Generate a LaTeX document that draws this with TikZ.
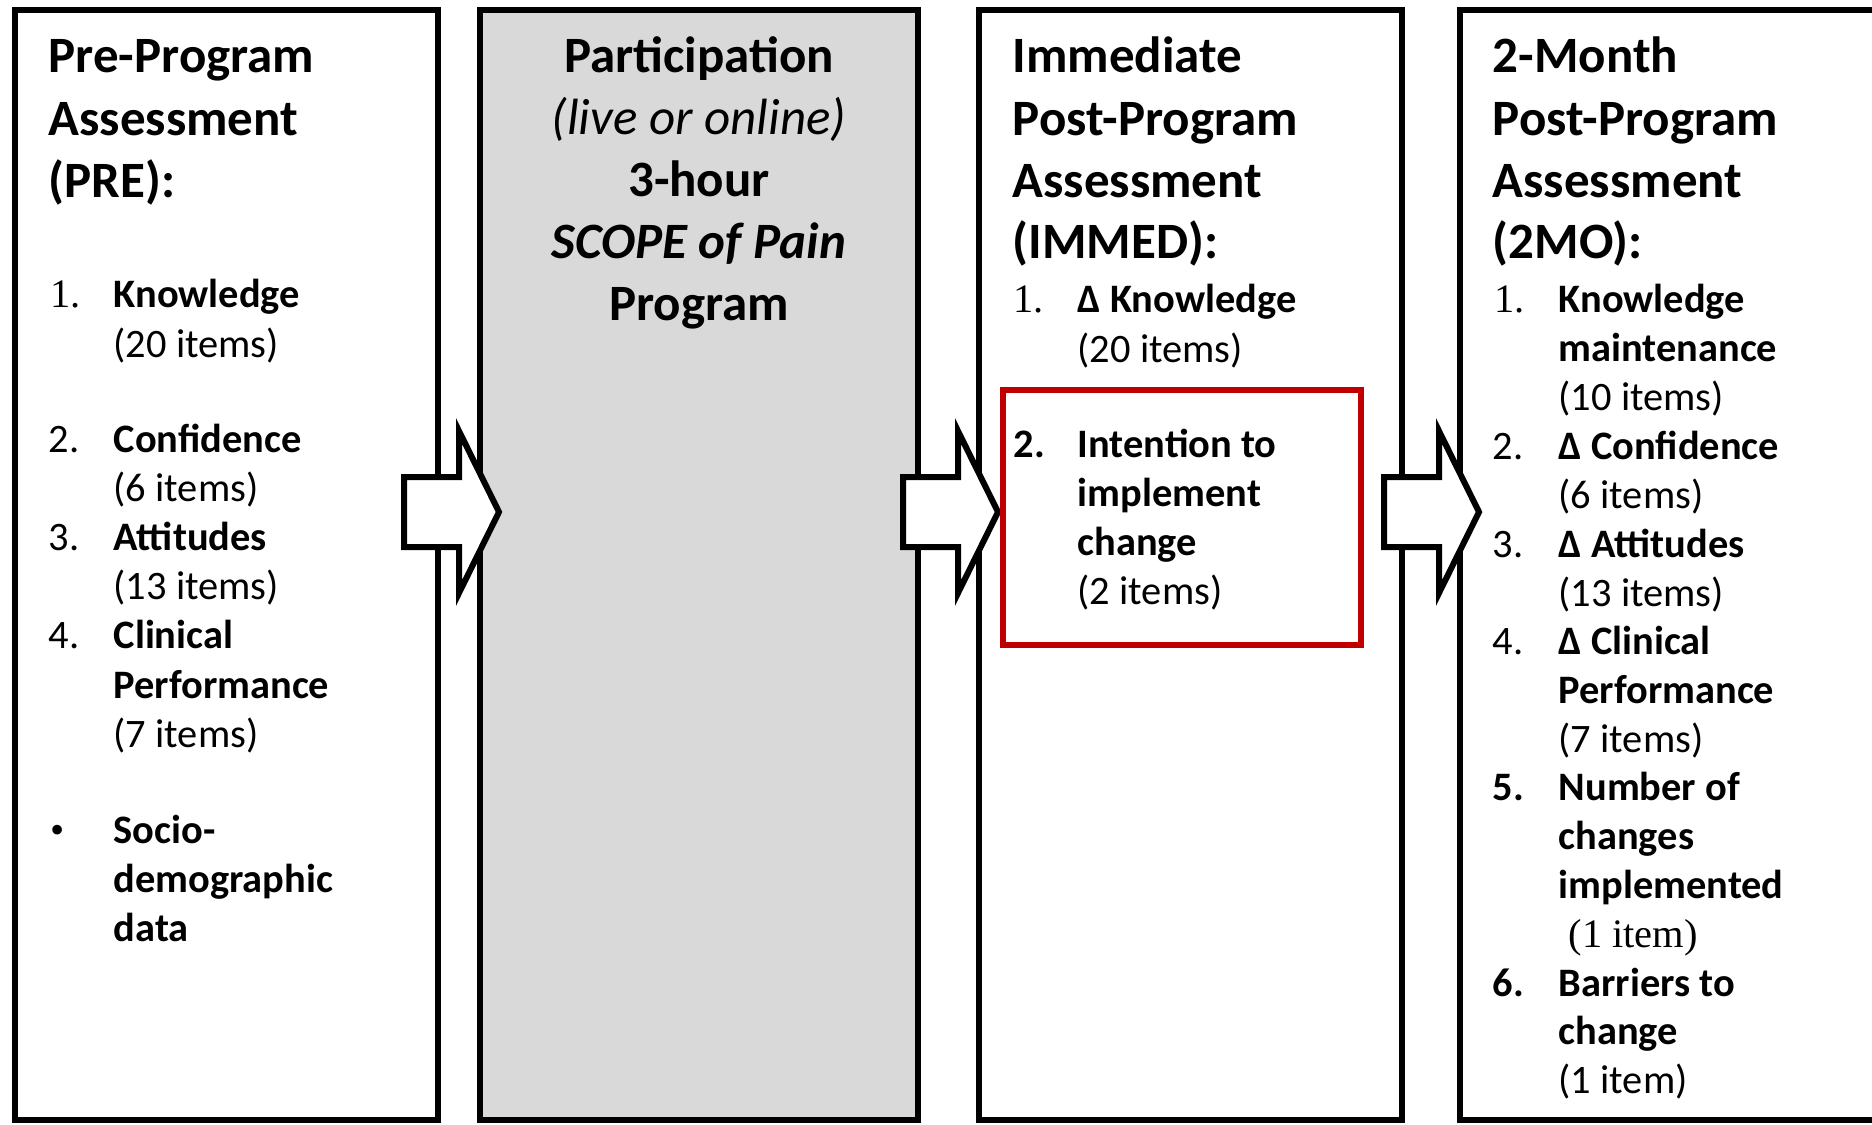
\documentclass[tikz,border=0pt]{standalone}
\usepackage{fontspec}
\setmainfont{Carlito}
\newfontfamily\timesfont{Liberation Serif}
\usetikzlibrary{calc}
\definecolor{boxgray}{RGB}{217,217,217}
\definecolor{boxred}{RGB}{192,0,0}
\newcommand{\headsize}{\fontsize{14.5}{17.6}\selectfont}
\newcommand{\itemsize}{\fontsize{11.5}{14}\selectfont}

\begin{document}
\begin{tikzpicture}[x=0.1mm, y=-0.1mm,
  stage/.style={draw, line width=0.6mm, outer sep=0pt, anchor=north west, minimum height=111mm},
  bigarrow/.style={draw, fill=white, line width=0.6mm, line join=miter},
  head/.style={anchor=base west, inner sep=0pt, font=\headsize\bfseries},
  lbl/.style={anchor=base west, inner sep=0pt, font=\itemsize},
  blbl/.style={anchor=base west, inner sep=0pt, font=\itemsize\bfseries},
  num/.style={anchor=base west, inner sep=0pt, font=\itemsize\timesfont}]
\clip (0,0) rectangle (1872,1124);
\fill[white] (0,0) rectangle (1872,1124);

\node[stage, minimum width=42.3mm] (pre) at (15,10) {};
\node[stage, minimum width=43.8mm, fill=boxgray] (part) at (480,10) {};
\node[stage, minimum width=42.3mm] (immed) at (979,10) {};
\node[stage, minimum width=45mm] (twomo) at (1460,10) {};

\foreach \s in {part, immed, twomo}
  \draw[bigarrow] ($(\s.north west)+(19,502)$) -- ++(-40,-81) -- ++(0,46) -- ++(-55,0)
     -- ++(0,70) -- ++(55,0) -- ++(0,46) -- cycle;

\node[draw=boxred, line width=0.65mm, outer sep=0pt, anchor=north west,
      minimum width=35.8mm, minimum height=25.5mm] (focus) at (1003,390) {};

\node[head] (pre1) at (48,72) {Pre-Program};
\node[head] (pre2) at (48,135) {Assessment};
\node[head] (pre3) at (48,197) {(PRE):};
\node[num] (pren1) at (50,307) {1.};
\node[blbl] (pre4) at (113,307) {Knowledge};
\node[lbl] (pre5) at (113,357) {(20 items)};
\node[lbl] (pren2) at (48,452) {2.};
\node[blbl] (pre6) at (113,452) {Confidence};
\node[lbl] (pre7) at (113,501) {(6 items)};
\node[lbl] (pren3) at (48,550) {3.};
\node[blbl] (pre8) at (113,550) {Attitudes};
\node[lbl] (pre9) at (113,599) {(13 items)};
\node[lbl] (pren4) at (48,648) {4.};
\node[blbl] (pre10) at (113,648) {Clinical};
\node[blbl] (pre11) at (113,698) {Performance};
\node[lbl] (pre12) at (113,747) {(7 items)};
\node[num] (pren5) at (50,843) {\textbullet};
\node[blbl] (pre13) at (113,843) {Socio-};
\node[blbl] (pre14) at (113,892) {demographic};
\node[blbl] (pre15) at (113,941) {data};

\node[head, anchor=base] (part1) at (699,72) {Participation};
\node[head, anchor=base, font=\headsize\itshape] (part2) at (699,134) {(live or online)};
\node[head, anchor=base] (part3) at (699,196) {3-hour};
\node[head, anchor=base, font=\headsize\bfseries\itshape] (part4) at (699,258) {SCOPE of Pain};
\node[head, anchor=base] (part5) at (699,320) {Program};

\node[head] (immed1) at (1012,72) {Immediate};
\node[head] (immed2) at (1012,135) {Post-Program};
\node[head] (immed3) at (1012,197) {Assessment};
\node[head] (immed4) at (1012,258) {(IMMED):};
\node[num] (immedn1) at (1013,312) {1.};
\node[blbl] (immed5) at (1077,312) {Δ Knowledge};
\node[lbl] (immed6) at (1077,362) {(20 items)};
\node[blbl] (immedn2) at (1013,457) {2.};
\node[blbl] (immed7) at (1077,457) {Intention to};
\node[blbl] (immed8) at (1077,506) {implement};
\node[blbl] (immed9) at (1077,555) {change};
\node[lbl] (immed10) at (1077,604) {(2 items)};

\node[head] (twomo1) at (1492,72) {2-Month};
\node[head] (twomo2) at (1492,135) {Post-Program};
\node[head] (twomo3) at (1492,197) {Assessment};
\node[head] (twomo4) at (1492,258) {(2MO):};
\node[num] (twomon1) at (1494,312) {1.};
\node[blbl] (twomo5) at (1558,312) {Knowledge};
\node[blbl] (twomo6) at (1558,361) {maintenance};
\node[lbl] (twomo7) at (1558,410) {(10 items)};
\node[lbl] (twomon2) at (1492,459) {2.};
\node[blbl] (twomo8) at (1558,459) {Δ Confidence};
\node[lbl] (twomo9) at (1558,508) {(6 items)};
\node[lbl] (twomon3) at (1492,557) {3.};
\node[blbl] (twomo10) at (1558,557) {Δ Attitudes};
\node[lbl] (twomo11) at (1558,606) {(13 items)};
\node[lbl] (twomon4) at (1492,654) {4.};
\node[blbl] (twomo12) at (1558,654) {Δ Clinical};
\node[blbl] (twomo13) at (1558,703) {Performance};
\node[lbl] (twomo14) at (1558,752) {(7 items)};
\node[blbl] (twomon5) at (1492,800) {5.};
\node[blbl] (twomo15) at (1558,800) {Number of};
\node[blbl] (twomo16) at (1558,849) {changes};
\node[blbl] (twomo17) at (1558,898) {implemented};
\node[num] (twomo18) at (1568,947) {(1 item)};
\node[blbl] (twomon6) at (1492,996) {6.};
\node[blbl] (twomo19) at (1558,996) {Barriers to};
\node[blbl] (twomo20) at (1558,1044) {change};
\node[lbl] (twomo21) at (1558,1093) {(1 item)};
\end{tikzpicture}
\end{document}
